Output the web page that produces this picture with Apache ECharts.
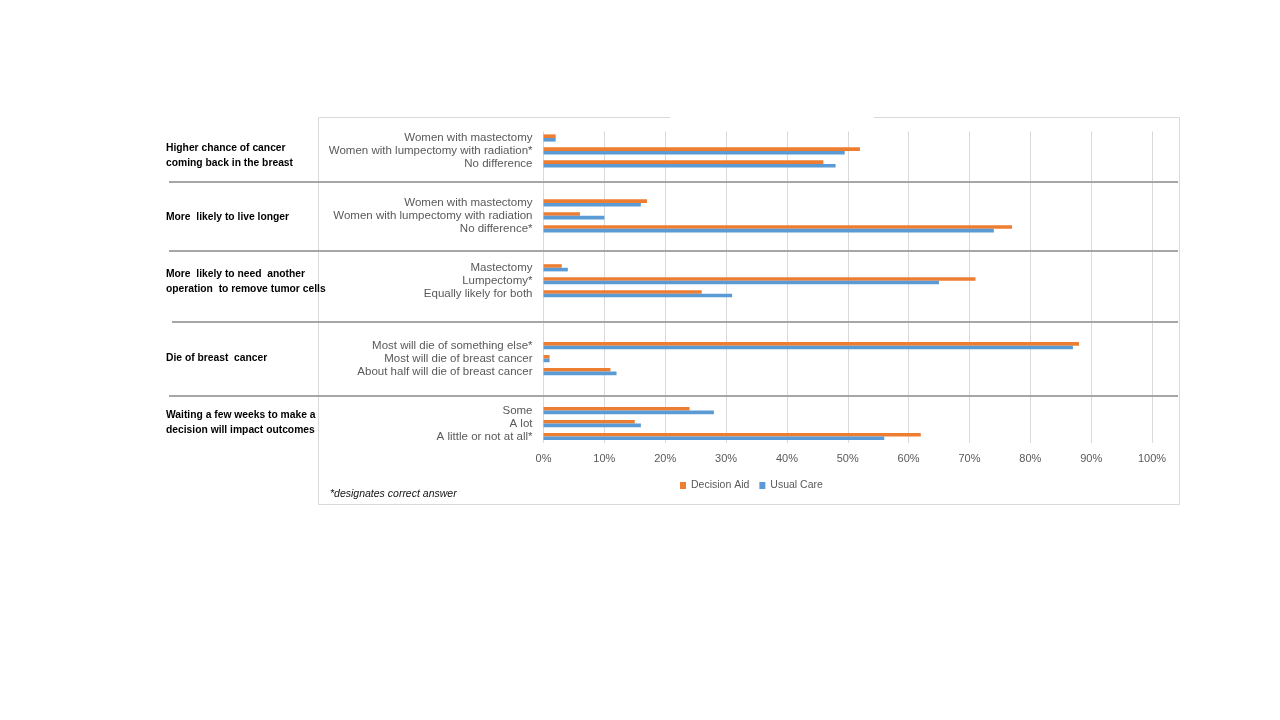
<!DOCTYPE html>
<html>
<head>
<meta charset="utf-8">
<script src="https://cdn.jsdelivr.net/npm/echarts@6/dist/echarts.min.js"></script>
<style>
  html, body { margin: 0; padding: 0; background: #fff; }
  #chart { width: 1280px; height: 720px; }
</style>
</head>
<body>
<div id="chart"></div>
<script>
  // answer rows, top to bottom ('' = spacer between question groups)
  var answers = [
    'Women with mastectomy', 'Women with lumpectomy with radiation*', 'No difference', '', '',
    'Women with mastectomy', 'Women with lumpectomy with radiation', 'No difference*', '', '',
    'Mastectomy', 'Lumpectomy*', 'Equally likely for both', '', '', '',
    'Most will die of something else*', 'Most will die of breast cancer', 'About half will die of breast cancer', '', '',
    'Some', 'A lot', 'A little or not at all*'
  ];
  var decisionAid = [
    0.02, 0.52, 0.46, null, null,
    0.17, 0.06, 0.77, null, null,
    0.03, 0.71, 0.26, null, null, null,
    0.88, 0.01, 0.11, null, null,
    0.24, 0.15, 0.62
  ];
  var usualCare = [
    0.02, 0.495, 0.48, null, null,
    0.16, 0.10, 0.74, null, null,
    0.04, 0.65, 0.31, null, null, null,
    0.87, 0.01, 0.12, null, null,
    0.28, 0.16, 0.56
  ];
  // question text on the left, one entry per line
  var questions = [
    ['Higher chance of cancer', 'coming back in the breast'],
    ['More  likely to live longer'],
    ['More  likely to need  another', 'operation  to remove tumor cells'],
    ['Die of breast  cancer'],
    ['Waiting a few weeks to make a', 'decision will impact outcomes']
  ];
  var questionY = [156, 217, 282, 358, 423];
  var separatorY = [182, 251, 322, 396];

  var myChart = echarts.init(document.getElementById('chart'));

  var graphics = [];
  // chart frame, with the little gap in its top edge
  graphics.push({
    type: 'rect', z: -10, silent: true,
    shape: { x: 318.5, y: 117.5, width: 861, height: 387 },
    style: { fill: 'none', stroke: '#d9d9d9', lineWidth: 1 }
  });
  graphics.push({
    type: 'rect', z: -9, silent: true,
    shape: { x: 670, y: 114, width: 204, height: 8 },
    style: { fill: '#fff' }
  });
  separatorY.forEach(function (y, i) {
    graphics.push({
      type: 'line', z: 10, silent: true,
      shape: { x1: i === 2 ? 172 : 169, y1: y, x2: 1178, y2: y },
      style: { stroke: '#a6a6a6', lineWidth: 2 }
    });
  });
  questions.forEach(function (lines, i) {
    graphics.push({
      type: 'text', silent: true,
      x: 166, y: questionY[i],
      style: {
        text: lines.join('\n'),
        font: 'bold 10.3px "Liberation Sans", Arial, sans-serif',
        fill: '#000',
        lineHeight: 15,
        verticalAlign: 'middle'
      }
    });
  });
  graphics.push({
    type: 'text', silent: true,
    x: 330, y: 494,
    style: {
      text: '*designates correct answer',
      font: 'italic 10.5px "Liberation Sans", Arial, sans-serif',
      fill: '#111',
      verticalAlign: 'middle'
    }
  });

  var option = {
    animation: false,
    textStyle: { fontFamily: '"Liberation Sans", Arial, sans-serif' },
    grid: { left: 543.5, top: 131.5, width: 608.5, height: 311.5, containLabel: false },
    legend: {
      data: ['Decision Aid', 'Usual Care'],
      left: 675, top: 475,
      itemWidth: 6, itemHeight: 7, itemGap: 10,
      icon: 'rect',
      textStyle: { color: '#595959', fontSize: 10.5 }
    },
    xAxis: {
      type: 'value', min: 0, max: 1, interval: 0.1,
      axisLine: { show: false },
      axisTick: { show: false },
      axisLabel: {
        color: '#595959', fontSize: 11, margin: 10,
        formatter: function (v) { return Math.round(v * 100) + '%'; }
      },
      splitLine: { lineStyle: { color: '#d9d9d9', width: 1 } }
    },
    yAxis: {
      type: 'category', inverse: true, data: answers,
      axisLine: { show: false },
      axisTick: { show: false },
      axisLabel: { color: '#595959', fontSize: 11.5, margin: 11, interval: 0 }
    },
    series: [
      {
        name: 'Decision Aid', type: 'bar', data: decisionAid,
        barWidth: 3.6, barGap: '0%',
        itemStyle: { color: '#ed7d31' }
      },
      {
        name: 'Usual Care', type: 'bar', data: usualCare,
        barWidth: 3.6, barGap: '0%',
        itemStyle: { color: '#5b9bd5' }
      }
    ],
    graphic: graphics
  };

  myChart.setOption(option);
</script>
</body>
</html>
